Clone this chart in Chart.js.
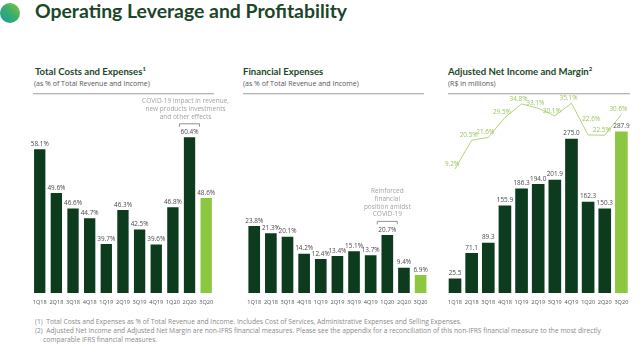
<!DOCTYPE html>
<html lang="en">
<head>
<meta charset="UTF-8">
<title>Operating Leverage and Profitability</title>
<script src="https://cdn.jsdelivr.net/npm/chart.js"></script>
<style>
  body { margin: 0; width: 640px; height: 346px; position: relative; background: #fff; overflow: hidden; font-family: "Open Sans", sans-serif; }
  .dot { position: absolute; left: 0; top: 3px; width: 20px; height: 20px; border-radius: 50%;
         background: linear-gradient(225deg, #8cc63f 0%, #3fae6a 45%, #169c9c 100%); }
  h1 { position: absolute; left: 35px; top: 1px; margin: 0; font: bold 19.4px/20px Lato, sans-serif; color: #1b4629; white-space: nowrap; }
  .ptitle { position: absolute; top: 66px; margin: 0; font: bold 9.6px/12px Lato, sans-serif; color: #1b4629; white-space: nowrap; }
  .ptitle sup { font-size: 6px; vertical-align: 4px; line-height: 0; }
  .psub { position: absolute; top: 79px; font: 7px/9px "Open Sans", sans-serif; color: #555; white-space: nowrap; }
  .rule { position: absolute; top: 92.5px; height: 1.5px; background: #b5b5b5; box-shadow: 0 1px 1px #e2e2e2; }
  canvas { position: absolute; top: 90px; }
  .notes { position: absolute; left: 35px; top: 317px; font: 6.7px/9px "Open Sans", sans-serif; color: #8a8a8a; white-space: nowrap; }
  .notes div.cont { padding-left: 8px; }
</style>
</head>
<body>
<div class="dot"></div>
<h1>Operating Leverage and Profitability</h1>

<div class="ptitle" style="left:35px">Total Costs and Expenses<sup>1</sup></div>
<div class="psub" style="left:34px">(as % of Total Revenue and Income)</div>
<div class="rule" style="left:33px; width:181px"></div>

<div class="ptitle" style="left:243px">Financial Expenses</div>
<div class="psub" style="left:243px">(as % of Total Revenue and Income)</div>
<div class="rule" style="left:243px; width:181px"></div>

<div class="ptitle" style="left:448px">Adjusted Net Income and Margin<sup>2</sup></div>
<div class="psub" style="left:448px">(R$ in millions)</div>
<div class="rule" style="left:448px; width:182px"></div>

<canvas id="costsChart" width="235" height="222" style="left:0"></canvas>
<canvas id="finChart" width="200" height="222" style="left:235px"></canvas>
<canvas id="incomeChart" width="205" height="222" style="left:435px"></canvas>

<div class="notes">
  <div>(1)&nbsp; Total Costs and Expenses as % of Total Revenue and Income. Includes Cost of Services, Administrative Expenses and Selling Expenses.</div>
  <div>(2)&nbsp; Adjusted Net Income and Adjusted Net Margin are non-IFRS financial measures. Please see the appendix for a reconciliation of this non-IFRS financial measure to the most directly</div>
  <div class="cont">comparable IFRS financial measures.</div>
</div>

<script>
  const quarters = ['1Q18', '2Q18', '3Q18', '4Q18', '1Q19', '2Q19', '3Q19', '4Q19', '1Q20', '2Q20', '3Q20'];
  const totalCostsPct = [58.1, 49.6, 46.6, 44.7, 39.7, 46.3, 42.5, 39.6, 46.8, 60.4, 48.6];
  const financialExpPct = [23.8, 21.3, 20.1, 14.2, 12.4, 13.4, 15.1, 13.7, 20.7, 9.4, 6.9];
  const adjNetIncome = [25.5, 71.1, 89.3, 155.9, 186.3, 194.0, 201.9, 275.0, 162.3, 150.3, 287.9];
  const adjNetMargin = [9.2, 20.5, 21.6, 29.5, 34.8, 33.1, 30.1, 35.1, 22.6, 22.5, 30.6];

  const costsNote = ['COVID-19 impact in revenue,', 'new products investments', 'and other effects'];
  const finNote = ['Reinforced', 'financial', 'position amidst', 'COVID-19'];

  const DARK = '#0c3b1e';
  const LIGHT = '#8dc63f';
  const barColors = quarters.map((q, i) => i === quarters.length - 1 ? LIGHT : DARK);

  Chart.defaults.font.family = '"Open Sans", sans-serif';

  // value labels above bars / line points
  const valueLabels = {
    id: 'valueLabels',
    afterDatasetsDraw(chart) {
      const ctx = chart.ctx;
      chart.data.datasets.forEach((ds, i) => {
        const meta = chart.getDatasetMeta(i);
        const isLine = ds.type === 'line';
        ctx.save();
        ctx.font = '6.4px "Open Sans"';
        ctx.fillStyle = ds.labelColor || '#4a4a4a';
        ctx.textAlign = 'center';
        ctx.textBaseline = 'bottom';
        const texts = ds.data.map(v => v.toFixed(1) + (ds.suffix || ''));
        meta.data.forEach((el, j) => {
          let x = el.x, y = el.y - 2;
          if (isLine) {
            x -= 3;
            y = el.y - 2;
            // lift a label if it sits level with the next one
            const nxt = meta.data[j + 1];
            if (nxt && Math.abs(nxt.y - el.y) < 2) {
              y -= 11;
              x += 6;
            }
          }
          ctx.fillText(texts[j], x, y);
        });
        ctx.restore();
      });
    }
  };

  // bracket + comment text over one bar
  const notePlugin = {
    id: 'note',
    afterDatasetsDraw(chart, args, opts) {
      if (!opts.lines) return;
      const el = chart.getDatasetMeta(0).data[opts.index];
      const ctx = chart.ctx;
      const top = el.y - 13.5;
      ctx.save();
      ctx.strokeStyle = '#777';
      ctx.lineWidth = 0.8;
      ctx.beginPath();
      ctx.moveTo(el.x - 10, top + 3);
      ctx.lineTo(el.x - 10, top);
      ctx.lineTo(el.x + 10, top);
      ctx.lineTo(el.x + 10, top + 3);
      ctx.stroke();
      ctx.font = '6.5px "Open Sans"';
      ctx.fillStyle = '#a3a3a3';
      ctx.textAlign = 'center';
      ctx.textBaseline = 'middle';
      const n = opts.lines.length;
      opts.lines.forEach((t, k) => {
        ctx.fillText(t, el.x + (opts.dx || 0), top - 7 - (n - 1 - k) * 7.7);
      });
      ctx.restore();
    }
  };

  function baseOptions(padLeft, padRight) {
    return {
      responsive: false,
      animation: false,
      layout: { padding: { left: padLeft, right: padRight, top: 6.6, bottom: 0.4 } },
      plugins: { legend: { display: false }, tooltip: { enabled: false } },
      scales: {
        x: {
          grid: { display: false, drawTicks: false },
          border: { display: false },
          ticks: { color: '#555', font: { size: 5.6 }, padding: 6, autoSkip: false, maxRotation: 0 }
        },
        y: { display: false }
      }
    };
  }

  // Total costs
  const costsOpts = baseOptions(31.4, 20.5);
  costsOpts.scales.y.min = 30.2;
  costsOpts.scales.y.max = 68.3;
  costsOpts.plugins.note = { index: 9, lines: costsNote, dx: -4 };
  new Chart(document.getElementById('costsChart'), {
    type: 'bar',
    data: {
      labels: quarters,
      datasets: [{ data: totalCostsPct, backgroundColor: barColors, suffix: '%', barPercentage: 0.68, categoryPercentage: 1 }]
    },
    options: costsOpts,
    plugins: [valueLabels, notePlugin]
  });

  // Financial expenses
  const finOpts = baseOptions(10.9, 6.1);
  finOpts.scales.y.min = 0.7;
  finOpts.scales.y.max = 68.4;
  finOpts.plugins.note = { index: 8, lines: finNote };
  new Chart(document.getElementById('finChart'), {
    type: 'bar',
    data: {
      labels: quarters,
      datasets: [{ data: financialExpPct, backgroundColor: barColors, suffix: '%', barPercentage: 0.7, categoryPercentage: 1 }]
    },
    options: finOpts,
    plugins: [valueLabels, notePlugin]
  });

  // Adjusted net income + margin
  const incOpts = baseOptions(11.7, 10.3);
  incOpts.scales.y.min = 0;
  incOpts.scales.y.max = 350;
  incOpts.scales.y2 = { display: false, min: -39.6, max: 37.7 };
  new Chart(document.getElementById('incomeChart'), {
    type: 'bar',
    data: {
      labels: quarters,
      datasets: [
        { type: 'bar', data: adjNetIncome, backgroundColor: barColors, barPercentage: 0.76, categoryPercentage: 1, yAxisID: 'y', order: 2 },
        { type: 'line', data: adjNetMargin, borderColor: '#b2d47a', borderWidth: 1, pointRadius: 0, tension: 0,
          yAxisID: 'y2', suffix: '%', labelColor: '#9cc45c', order: 1 }
      ]
    },
    options: incOpts,
    plugins: [valueLabels]
  });
</script>
</body>
</html>
